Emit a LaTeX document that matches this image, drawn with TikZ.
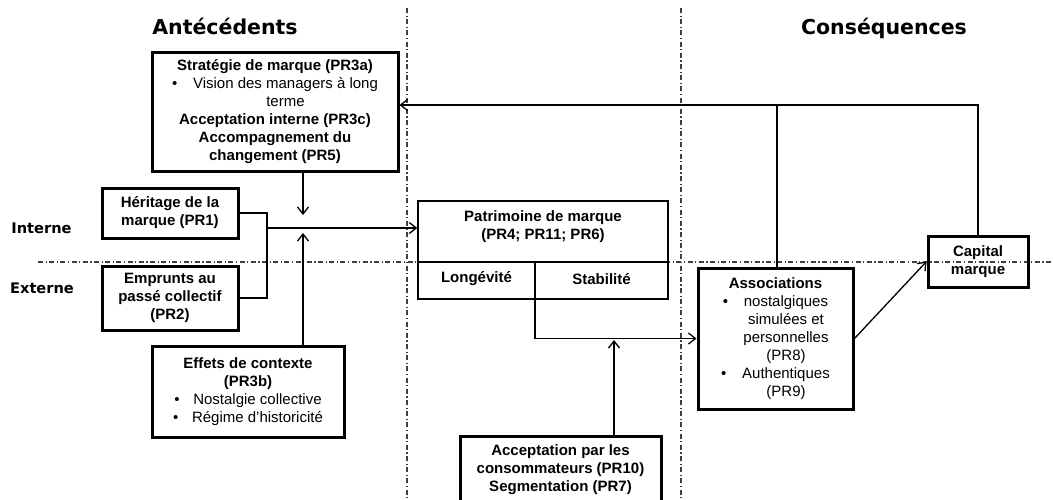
\documentclass[tikz,border=0pt]{standalone}
\usepackage{fontspec}
\setmainfont{Liberation Sans}
\newfontfamily\titlefont{DejaVu Sans}
\usetikzlibrary{arrows.meta}
\begin{document}
\begin{tikzpicture}[x=1pt,y=-1pt,
  every node/.style={inner sep=0pt, font=\fontsize{15}{18}\selectfont, align=center},
  thickbox/.style={draw, line width=3pt},
  thinbox/.style={draw, line width=1.4pt},
  conn/.style={line width=1.3pt},
  arr/.style={conn, -{Straight Barb[length=7pt,width=11pt,line width=1.3pt]}},
  axisline/.style={line width=1.1pt, dash pattern=on 5pt off 2.5pt on 1.2pt off 2.5pt, black!75},
  titletext/.style={font=\titlefont\bfseries\fontsize{20.5}{24}\selectfont, anchor=base},
  sidetext/.style={font=\titlefont\bfseries\fontsize{14.6}{17}\selectfont, anchor=base}]
\useasboundingbox (0,0) rectangle (1053,499);

% axes
\coordinate (v1t) at (407,8);  \coordinate (v1b) at (407,499);
\coordinate (v2t) at (681,8);  \coordinate (v2b) at (681,499);
\coordinate (hl) at (38,262);  \coordinate (hr) at (1053,262);
\draw[axisline] (v1t) -- (v1b);
\draw[axisline] (v2t) -- (v2b);
\draw[axisline] (hl) -- (hr);

% titles
\node[titletext] (antec) at (225,34) {Antécédents};
\node[titletext] (conseq) at (884,34) {Conséquences};
\node[sidetext] (interne) at (41.5,233) {Interne};
\node[sidetext] (externe) at (42,293) {Externe};

% boxes
\node[thickbox, minimum width=246, minimum height=119] (strat) at (275,111.5)
 {\textbf{Stratégie de marque (PR3a)}\\
  \makebox[21pt][l]{\textbullet}Vision des managers à long\\
  \hspace*{21pt}terme\\
  \textbf{Acceptation interne (PR3c)}\\
  \textbf{Accompagnement du}\\
  \textbf{changement (PR5)}};

\node[thickbox, minimum width=136, minimum height=50] (her) at (170,213)
 {\textbf{Héritage de la}\\\textbf{marque (PR1)}};

\node[thickbox, minimum width=136, minimum height=64] (emp) at (170,298)
 {\textbf{Emprunts au}\\\textbf{passé collectif}\\\textbf{(PR2)}};

\node[thickbox, minimum width=192, minimum height=91] (eff) at (248,391.5)
 {\textbf{Effets de contexte}\\
  \textbf{(PR3b)}\\
  \makebox[19pt][l]{\textbullet}Nostalgie collective\\
  \makebox[19pt][l]{\textbullet}Régime d’historicité};

\node[thinbox, minimum width=250, minimum height=98] (pat) at (543,250) {};
\coordinate (split) at (535,299);
\coordinate (divL) at (418,262);
\coordinate (divR) at (668,262);
\draw[line width=1.4pt] (divL) -- (divR);
\draw[line width=1.4pt] (split) -- (split |- divL);
\node (pattxt) at (543,227) {\textbf{Patrimoine de marque}\\\textbf{(PR4; PR11; PR6)}};
\node (lon) at (476.5,279) {\textbf{Longévité}};
\node (stab) at (601.5,279) {\textbf{Stabilité}};

\node[thickbox, minimum width=201, minimum height=68] (acc) at (560.5,470)
 {\textbf{Acceptation par les}\\\textbf{consommateurs (PR10)}\\\textbf{Segmentation (PR7)}};

\node[thickbox, minimum width=155, minimum height=141] (assoc) at (775.5,338.5)
 {\textbf{Associations}\\
  \makebox[21pt][l]{\textbullet}nostalgiques\\
  \hspace*{21pt}simulées et\\
  \hspace*{21pt}personnelles\\
  \hspace*{21pt}(PR8)\\
  \makebox[21pt][l]{\textbullet}Authentiques\\
  \hspace*{21pt}(PR9)};

\node[thickbox, minimum width=100, minimum height=51] (cap) at (978,261.5)
 {\textbf{Capital}\\\textbf{marque}};

% connectors
\coordinate (ptop) at (303,215);
\coordinate (pbot) at (303,233);
\coordinate (m) at (267,228);
\coordinate (accup) at (614,340);
\coordinate (fb) at (978,105);
\coordinate (fbj) at (777,105);

\draw[arr] (strat.south -| ptop) -- (ptop);
\draw[conn] (her.east) -| (m) |- (emp.east);
\draw[arr] (m) -- (pat.west |- m);
\draw[arr] (eff.north -| pbot) -- (pbot);
\draw[arr] (split) |- (assoc.west);
\draw[arr] (acc.north -| accup) -- (accup);
\draw[arr] (assoc.east) -- (cap.west);
\draw[arr] (cap.north -| fb) -- (fb) -- (strat.east |- fb);
\draw[conn] (assoc.north -| fbj) -- (fbj);
\end{tikzpicture}
\end{document}
